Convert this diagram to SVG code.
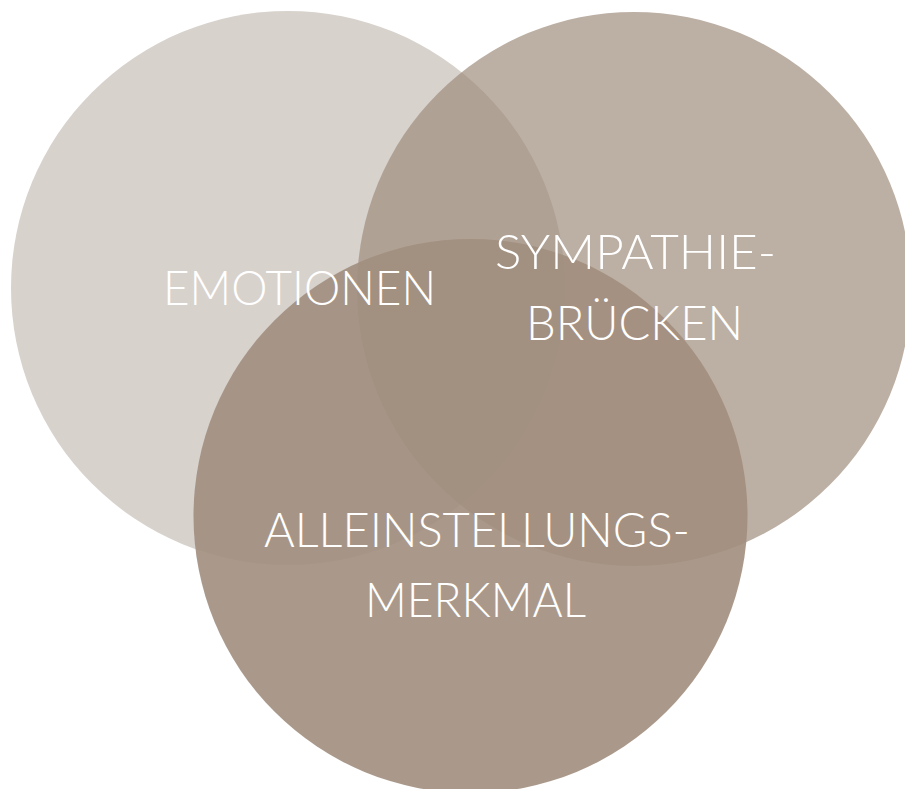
<svg xmlns="http://www.w3.org/2000/svg" width="905" height="789" viewBox="0 0 905 789">
<style>
.lbl{font-family:"Lato","Open Sans","Liberation Sans",sans-serif;font-weight:300;font-size:48px;fill:#ffffff}
</style>
<rect width="905" height="789" fill="#ffffff"/>
<g id="emotionen">
<circle cx="288" cy="288" r="277" fill="#d8d2cd"/>
</g>
<g id="sympathie">
<circle cx="634" cy="289" r="277" fill="rgb(158,139,123)" fill-opacity="0.69"/>
</g>
<g id="alleinstellung">
<circle cx="470.5" cy="516" r="277" fill="rgb(161,142,126)" fill-opacity="0.9"/>
</g>
<g id="labels">
<text class="lbl" x="163" y="304.5" textLength="273" lengthAdjust="spacingAndGlyphs">EMOTIONEN</text>
<text class="lbl" x="495" y="269" textLength="281" lengthAdjust="spacingAndGlyphs">SYMPATHIE-</text>
<text class="lbl" x="526" y="340" textLength="217" lengthAdjust="spacingAndGlyphs">BRÜCKEN</text>
<text class="lbl" x="264" y="547" textLength="426" lengthAdjust="spacingAndGlyphs">ALLEINSTELLUNGS-</text>
<text class="lbl" x="365" y="616.5" textLength="221" lengthAdjust="spacingAndGlyphs">MERKMAL</text>
</g>
</svg>
